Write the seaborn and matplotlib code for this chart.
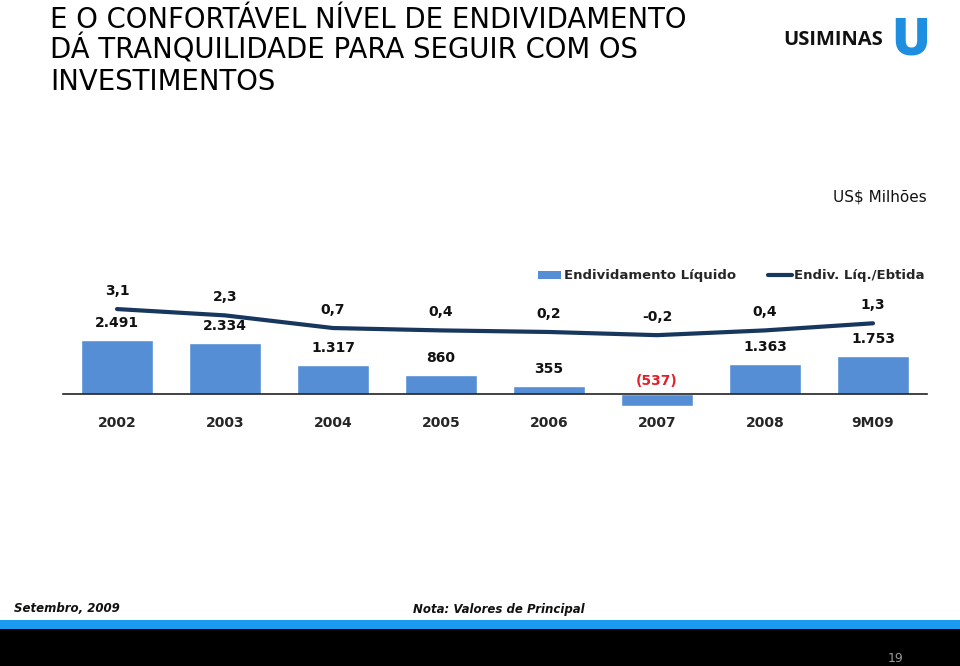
import matplotlib
matplotlib.use('Agg')
import matplotlib.pyplot as plt
import seaborn as sns
import pandas as pd
import numpy as np
from matplotlib.patches import Patch, Rectangle
from matplotlib.lines import Line2D

# chart data
periods = ['2002', '2003', '2004', '2005', '2006', '2007', '2008', '9M09']
net_debt = [2491, 2334, 1317, 860, 355, -537, 1363, 1753]
debt_labels = ['2.491', '2.334', '1.317', '860', '355', '(537)', '1.363', '1.753']
debt_ebitda = [3.1, 2.3, 0.7, 0.4, 0.2, -0.2, 0.4, 1.3]
ratio_labels = ['3,1', '2,3', '0,7', '0,4', '0,2', '-0,2', '0,4', '1,3']
title_lines = ['E O CONFORTÁVEL NÍVEL DE ENDIVIDAMENTO',
               'DÁ TRANQUILIDADE PARA SEGUIR COM OS',
               'INVESTIMENTOS']

bar_color = '#558ed5'
line_color = '#17375e'

df = pd.DataFrame({'periodo': periods, 'divida': net_debt})

sns.set_style('white')
plt.rcParams['font.family'] = ['DejaVu Sans']

fig = plt.figure(figsize=(9.6, 6.66), dpi=100)
W, H = 960, 666

# axes placed in pixel terms: x 63..927, y 270..415 (from top)
ax = fig.add_axes([63 / W, 1 - 415 / H, 864 / W, 145 / H])
sns.barplot(data=df, x='periodo', y='divida', color=bar_color, width=0.66,
            saturation=1, ax=ax)
ax.set_xlim(-0.5, 7.5)
ax.set_ylim(-968, 5714)
ax.set_xlabel('')
ax.set_ylabel('')
ax.set_yticks([])
for s in ['top', 'right', 'left']:
    ax.spines[s].set_visible(False)
ax.spines['bottom'].set_position(('data', 0))
ax.spines['bottom'].set_color('#222222')
ax.spines['bottom'].set_linewidth(1.2)
ax.set_xticks(range(len(periods)))
ax.set_xticklabels(periods, fontsize=10, fontweight='bold')
ax.tick_params(axis='x', which='major', length=0, pad=16)
ax.set_xticks(np.arange(-0.5, 8, 1), minor=True)
ax.tick_params(axis='x', which='minor', direction='inout', length=9,
               width=1, color='#222222')

for i, (v, lab) in enumerate(zip(net_debt, debt_labels)):
    if v < 0:
        ax.annotate(lab, (i, 0), xytext=(0, 13), textcoords='offset pixels',
                    ha='center', va='center', fontsize=10, fontweight='bold',
                    color='#e3202a')
    else:
        ax.annotate(lab, (i, v), xytext=(0, 17), textcoords='offset pixels',
                    ha='center', va='center', fontsize=10, fontweight='bold',
                    color='#111111')

# secondary axis for ratio line
ax2 = ax.twinx()
sns.lineplot(x=np.arange(len(periods)), y=debt_ebitda, color=line_color,
             linewidth=3, ax=ax2)
ax2.set_ylim(-10.3, 8.04)
ax2.set_yticks([])
for s in ax2.spines.values():
    s.set_visible(False)
for i, (v, lab) in enumerate(zip(debt_ebitda, ratio_labels)):
    ax2.annotate(lab, (i, v), xytext=(0, 18), textcoords='offset pixels',
                 ha='center', va='center', fontsize=10, fontweight='bold',
                 color='#111111')

handles = [Patch(facecolor=bar_color, edgecolor='none'),
           Line2D([0], [0], color=line_color, lw=3)]
fig.legend(handles, ['Endividamento Líquido', 'Endiv. Líq./Ebtida'],
           loc='center right', bbox_to_anchor=(930 / W, 1 - 276 / H), ncol=2,
           frameon=False, prop={'weight': 'bold', 'size': 9.5},
           handlelength=1.8, handleheight=0.5, handletextpad=0.2,
           columnspacing=2.4, borderaxespad=0)

# title and header texts
for k, line in enumerate(title_lines):
    fig.text(50 / W, 1 - (28 + 31 * k) / H, line, ha='left', va='baseline',
             fontsize=19.8, color='#000000')
fig.text(927 / W, 1 - 197 / H, 'US$ Milhões', ha='right', va='center',
         fontsize=11, color='#111111')

# logo
fig.text(783 / W, 1 - 40 / H, 'USIMINAS', ha='left', va='center',
         fontsize=14.5, fontweight='bold', color='#111111',
         family=['Open Sans', 'DejaVu Sans'])
fig.text(911 / W, 1 - 41 / H, 'U', ha='center', va='center',
         fontsize=37, fontweight='heavy', color='#1e8fe0',
         family=['Open Sans', 'DejaVu Sans'])

# footer
fig.text(14 / W, 1 - 608 / H, 'Setembro, 2009', ha='left', va='center',
         fontsize=8.5, fontweight='bold', style='italic', color='#111111')
fig.text(413 / W, 1 - 609 / H, 'Nota: Valores de Principal', ha='left',
         va='center', fontsize=8.5, fontweight='bold', style='italic',
         color='#111111')
fig.patches.append(Rectangle((0, 1 - 629 / H), 1, 9 / H, transform=fig.transFigure,
                             facecolor='#1a9bf0', edgecolor='none'))
fig.patches.append(Rectangle((0, 0), 1, 1 - 629 / H, transform=fig.transFigure,
                             facecolor='#000000', edgecolor='none'))
fig.text(903 / W, 1 - 659 / H, '19', ha='right', va='center', fontsize=9,
         color='#9a9a9a')

fig.savefig('out.png', dpi=100)
